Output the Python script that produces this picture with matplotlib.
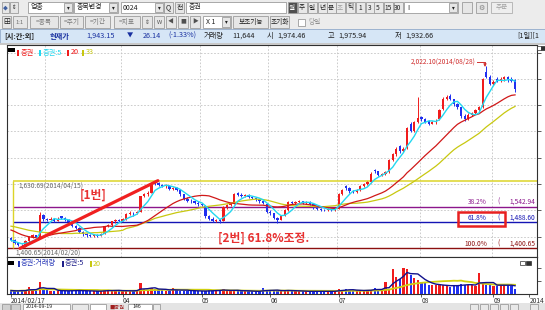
import matplotlib.pyplot as plt
import numpy as np
import pandas as pd
from matplotlib.patches import Rectangle

plt.rcParams['font.family'] = ['Noto Sans CJK KR', 'DejaVu Sans']

W, H = 545, 310

# 증권 업종 일봉 (2014/02/17 ~ 2014/09)
opens = [1435, 1428, 1420, 1410, 1406, 1425, 1440, 1445, 1438, 1515,
         1500, 1498, 1502, 1495, 1510, 1505, 1498, 1490, 1475, 1470,
         1455, 1448, 1445, 1442, 1447, 1444, 1450, 1475, 1480, 1492,
         1497, 1495, 1500, 1518, 1522, 1520, 1525, 1578, 1585, 1590,
         1628, 1622, 1616, 1612, 1614, 1604, 1606, 1598, 1584, 1570,
         1562, 1560, 1556, 1552, 1545, 1510, 1500, 1495, 1498, 1494,
         1540, 1548, 1552, 1588, 1583, 1578, 1582, 1575, 1572, 1568,
         1560, 1552, 1525, 1520, 1505, 1498, 1512, 1530, 1558, 1555,
         1558, 1560, 1556, 1558, 1552, 1540, 1535, 1532, 1530, 1534,
         1530, 1535, 1585, 1612, 1605, 1595, 1592, 1598, 1612, 1620,
         1625, 1668, 1662, 1650, 1652, 1660, 1700, 1720, 1748, 1730,
         1742, 1825, 1800, 1830, 1848, 1840, 1835, 1825, 1830, 1840,
         1875, 1910, 1920, 1908, 1890, 1880, 1852, 1840, 1855, 1860,
         1870, 1880, 2000, 1985, 1960, 1978, 1970, 1975, 1982, 1978,
         1974.46]
highs = [1438, 1432, 1423, 1415, 1428, 1442, 1450, 1447, 1525, 1518,
         1505, 1508, 1504, 1506, 1512, 1507, 1500, 1492, 1480, 1472,
         1458, 1452, 1448, 1450, 1449, 1452, 1478, 1483, 1495, 1500,
         1499, 1503, 1520, 1526, 1525, 1528, 1580, 1590, 1594, 1618,
         1630.69, 1626, 1620, 1618, 1616, 1610, 1608, 1600, 1586, 1574,
         1568, 1562, 1560, 1556, 1547, 1515, 1506, 1502, 1500, 1545,
         1552, 1556, 1590, 1592, 1588, 1585, 1584, 1578, 1575, 1570,
         1562, 1554, 1530, 1522, 1508, 1515, 1534, 1562, 1562, 1562,
         1565, 1562, 1562, 1560, 1554, 1544, 1538, 1535, 1537, 1536,
         1538, 1590, 1604, 1615, 1608, 1598, 1602, 1615, 1624, 1628,
         1660, 1672, 1665, 1656, 1664, 1704, 1725, 1745, 1752, 1745,
         1815, 1830, 1835, 1915, 1852, 1845, 1838, 1835, 1840, 1875,
         1915, 1922, 1924, 1910, 1894, 1882, 1858, 1860, 1866, 1875,
         1885, 1980, 2022.10, 1990, 1972, 1982, 1985, 1988, 1986, 1982,
         1975.94]
lows = [1424, 1415, 1408, 1400.65, 1404, 1423, 1436, 1433, 1436, 1495,
        1494, 1496, 1490, 1493, 1502, 1495, 1487, 1472, 1466, 1452,
        1444, 1440, 1438, 1440, 1440, 1442, 1448, 1472, 1478, 1488,
        1490, 1493, 1498, 1514, 1512, 1516, 1524, 1574, 1580, 1588,
        1615, 1612, 1608, 1606, 1600, 1598, 1594, 1580, 1565, 1558,
        1555, 1550, 1546, 1544, 1505, 1496, 1490, 1488.60, 1488, 1492,
        1536, 1544, 1550, 1578, 1574, 1575, 1572, 1568, 1562, 1556,
        1550, 1520, 1515, 1500, 1488, 1496, 1510, 1528, 1550, 1552,
        1554, 1552, 1553, 1548, 1536, 1530, 1528, 1526, 1528, 1527,
        1528, 1534, 1582, 1600, 1590, 1588, 1590, 1596, 1608, 1615,
        1622, 1658, 1645, 1646, 1650, 1658, 1698, 1716, 1726, 1728,
        1740, 1796, 1798, 1826, 1835, 1826, 1820, 1822, 1825, 1838,
        1872, 1905, 1904, 1886, 1876, 1845, 1835, 1838, 1850, 1856,
        1866, 1878, 1980, 1955, 1955, 1965, 1966, 1970, 1968, 1965,
        1932.66]
closes = [1428, 1420, 1412, 1405, 1425, 1440, 1445, 1438, 1515, 1500,
          1498, 1502, 1495, 1500, 1505, 1498, 1490, 1475, 1470, 1455,
          1448, 1445, 1442, 1447, 1444, 1450, 1475, 1480, 1492, 1497,
          1495, 1500, 1518, 1522, 1520, 1525, 1578, 1585, 1590, 1615,
          1620, 1616, 1612, 1614, 1604, 1606, 1598, 1584, 1570, 1562,
          1560, 1556, 1552, 1548, 1510, 1500, 1495, 1498, 1492, 1540,
          1548, 1550, 1585, 1583, 1578, 1582, 1575, 1572, 1568, 1560,
          1555, 1525, 1520, 1505, 1498, 1512, 1530, 1558, 1555, 1558,
          1560, 1556, 1558, 1552, 1540, 1535, 1532, 1530, 1534, 1530,
          1535, 1585, 1600, 1605, 1595, 1592, 1598, 1612, 1620, 1625,
          1655, 1662, 1650, 1652, 1660, 1700, 1720, 1740, 1730, 1740,
          1810, 1800, 1830, 1845, 1840, 1830, 1825, 1830, 1835, 1870,
          1910, 1915, 1908, 1890, 1880, 1850, 1840, 1855, 1860, 1870,
          1880, 1975, 1985, 1960, 1968, 1970, 1978, 1982, 1972, 1970,
          1943.15]
# 거래량 (천주)
volumes = [8, 7, 7, 9, 8, 17, 9, 8, 27, 12,
           9, 8, 8, 7, 7, 8, 7, 9, 8, 8,
           7, 7, 6, 7, 6, 7, 10, 9, 8, 8,
           7, 7, 8, 8, 7, 9, 25, 11, 10, 14,
           12, 11, 9, 8, 8, 13, 9, 8, 8, 7,
           8, 7, 7, 6, 6, 10, 9, 8, 8, 11,
           8, 7, 9, 8, 7, 7, 6, 6, 6, 6,
           13, 9, 8, 8, 7, 8, 8, 10, 7, 6,
           6, 6, 7, 6, 6, 6, 6, 6, 6, 6,
           7, 12, 10, 11, 9, 8, 7, 8, 9, 10,
           10, 14, 9, 10, 28, 12, 58, 40, 35, 60,
           57, 45, 38, 33, 28, 25, 22, 20, 20, 22,
           20, 18, 17, 20, 22, 24, 22, 20, 20, 18,
           48, 25, 22, 20, 18, 18, 24, 22, 20, 18,
           11.644]

# 이평선 앞부분
ma20_head = [1463, 1458, 1452, 1447, 1443, 1440, 1438, 1437, 1437, 1440,
             1443, 1446, 1449, 1451, 1453, 1455, 1457, 1459, 1461]
ma33_head = [1476, 1474, 1471, 1468, 1465, 1462, 1460, 1458, 1456, 1455,
             1454, 1453, 1452, 1452, 1451, 1451, 1451, 1451, 1452, 1452,
             1452, 1453, 1453, 1454, 1454, 1455, 1456, 1457, 1458, 1459,
             1460, 1462]

month_start = [10, 31, 53, 72, 91, 114, 134]
date_ticks = [0, 31, 53, 72, 91, 114, 134, 144]
date_labels = ['2014/02/17', '04', '05', '06', '07', '08', '09', '2014']

fib_prices = [1630.69, 1542.94, 1488.60, 1400.65]
fib_pcts = ['', '38.2%', '61.8%', '100.0%']
fib_colors = ['#dcd428', '#8c168c', '#1414b4', '#8c1010']
grid_prices = [2065, 1976, 1888, 1799, 1707, 1619, 1530, 1439]

RED = '#f01c1c'
BLUE = '#2030f0'
CYAN = '#22d8f0'
MA_RED = '#d01818'
YEL = '#c8c810'

fig = plt.figure(figsize=(W / 100, H / 100), dpi=100)


def rect(x0, y0, x1, y1):
    return [x0 / W, 1 - y1 / H, (x1 - x0) / W, (y1 - y0) / H]


o = np.array(opens, float)
h = np.array(highs, float)
l = np.array(lows, float)
c = np.array(closes, float)
v = np.array(volumes, float)
idx = np.arange(len(c))
col = np.where(c >= o, RED, BLUE)

s = pd.Series(c)
ma5 = s.rolling(5, min_periods=1).mean().values
ma20 = s.rolling(20).mean().values
ma20[:len(ma20_head)] = ma20_head
ma33 = s.rolling(33).mean().values
ma33[:len(ma33_head)] = ma33_head

XL = (-1.11, 146.1)

# price panel
ax = fig.add_axes(rect(7, 45, 537, 257))
ax.set_xlim(*XL)
ax.set_ylim(1371.2, 2092.2)
for gp in grid_prices:
    ax.axhline(gp, color='#c4c4c4', lw=0.6, dashes=(2, 2), zorder=0)
for m in month_start:
    ax.axvline(m - 0.5, color='#c4c4c4', lw=0.6, dashes=(2, 2), zorder=0)

ax.vlines(idx, l, h, colors=col, lw=0.7, zorder=3)
ax.bar(idx, np.maximum(np.abs(c - o), 1.8), bottom=np.minimum(o, c),
       width=0.62, color=col, lw=0, zorder=4)
ax.plot(idx, ma33, color=YEL, lw=0.9, zorder=5)
ax.plot(idx, ma20, color=MA_RED, lw=0.9, zorder=5)
ax.plot(idx, ma5, color=CYAN, lw=1.0, zorder=6)

# fibonacci
starts = [0.55, 0.55, 0.55, XL[0]]
for p, x0, fc in zip(fib_prices, starts, fib_colors):
    ax.hlines(p, x0, XL[1], color=fc, lw=1.1 if p == fib_prices[0] else 1.0, zorder=2)
ax.vlines(0.55, fib_prices[-1], fib_prices[0], color=fib_colors[0], lw=1.0, zorder=2)

# [1번] line from low to high
ax.plot([2.5, 40.8], [lows[3], highs[40]], color='#f02020', lw=2.3,
        solid_capstyle='round', zorder=8)

ax.yaxis.tick_right()
ax.set_yticks(grid_prices)
ax.set_yticklabels([])
ax.tick_params(axis='y', length=3, width=0.6, color='#404040')
ax.set_xticks([])
for sp in ax.spines.values():
    sp.set_color('#303030')
    sp.set_linewidth(0.8)

# volume panel
axv = fig.add_axes(rect(7, 257, 537, 294))
axv.set_xlim(*XL)
axv.set_ylim(0, 86)
axv.bar(idx, v, width=0.62, color=col, lw=0, zorder=3)
vs = pd.Series(v)
axv.plot(idx, vs.rolling(20, min_periods=1).mean(), color='#d0d010', lw=1.3, zorder=4)
axv.plot(idx, vs.rolling(5, min_periods=1).mean(), color='#12128c', lw=1.0, zorder=5)
axv.yaxis.tick_right()
axv.set_yticks([30, 60])
axv.set_yticklabels([])
axv.tick_params(axis='y', length=3, width=0.6, color='#404040')
axv.set_xticks(date_ticks)
axv.set_xticklabels(date_labels, ha='left', fontsize=4.8, color='#303030')
axv.tick_params(axis='x', length=2, width=0.6, pad=0.3, color='#404040')
for sp in axv.spines.values():
    sp.set_color('#303030')
    sp.set_linewidth(0.8)

# overlay in pixel units
ov = fig.add_axes([0, 0, 1, 1])
ov.set_xlim(0, W)
ov.set_ylim(H, 0)
ov.axis('off')


def box(x0, y0, x1, y1, fc='white', ec='#9c9c9c', lw=0.6, z=1):
    ov.add_patch(Rectangle((x0, y0), x1 - x0, y1 - y0, facecolor=fc,
                           edgecolor=ec, lw=lw, zorder=z))


def txt(x, y, t, size=5, color='#202020', ha='left', weight='normal', z=3):
    ov.text(x, y, t, fontsize=size, color=color, ha=ha, va='center',
            weight=weight, zorder=z)


# toolbar rows
box(0, 0, W, 29, fc='#ececec', ec='none', lw=0)
box(2, 2, 9, 13, fc='#e6e6e6')
txt(5.5, 7.5, '◆', size=3.5, color='#4060a0', ha='center')
box(10, 2, 18, 13, fc='#e6e6e6')
txt(14, 7.5, '⇕', size=4, ha='center')
for x0, x1, t, tw in [(28, 73, '업종', 31), (74, 118, '종목변경', 77), (121, 164, '0024', 123)]:
    box(x0, 2, x1, 13)
    txt(tw, 7.5, t, size=5)
    box(x1 - 9, 3, x1 - 1, 12, fc='#e6e6e6')
    txt(x1 - 5, 7.5, '▾', size=4, ha='center')
box(164, 2, 173, 13, fc='#e6e6e6')
txt(168.5, 7.5, 'Q', size=5, ha='center')
box(175, 2, 184, 13, fc='#e6e6e6')
txt(179.5, 7.5, '전', size=5, ha='center')
box(186, 2, 286, 13)
txt(189, 7.5, '증권', size=5)
periods = ['월', '주', '일', '년', '분', '초', '틱', '1', '3', '5', '15', '30']
pos = [292, 302, 312, 322, 331, 340, 350, 360, 370, 378, 388, 398]
for t, px in zip(periods, pos):
    dark = t == '월'
    box(px - 4.5, 2, px + 4.5, 13, fc='#505050' if dark else '#e8e8e8')
    txt(px, 7.5, t, size=4.8, ha='center',
        color='white' if dark else ('#a0a0a0' if t == '초' else '#202020'))
box(404, 2, 458, 13)
txt(407, 7.5, 'I', size=5)
box(449, 3, 457, 12, fc='#e6e6e6')
txt(453, 7.5, '▾', size=4, ha='center')
box(462, 2, 472, 13, fc='#e6e6e6')
box(476, 2, 487, 13, fc='#e6e6e6')
txt(481.5, 7.5, '⚙', size=5, color='#808080', ha='center')
box(491, 2, 512, 13, fc='#eeeeee', ec='#b0b0b0')
txt(501.5, 7.5, '주문', size=4.8, color='#a0a0a0', ha='center')

y2 = 22
box(2, 16, 11, 28, fc='#e6e6e6')
txt(6.5, y2, '田', size=5, ha='center')
box(13, 16, 27, 28, fc='#e6e6e6')
txt(20, y2, '1:1', size=4.2, color='#707070', ha='center')
for x0, x1, t in [(30, 58, '=종목'), (60, 83, '=주기'), (85, 110, '=기간'), (114, 140, '=지표')]:
    box(x0, 16, x1, 28, fc='#e6e6e6')
    txt((x0 + x1) / 2, y2, t, size=4.8, color='#7a7a7a', ha='center')
for x0, t in [(142, '⇕'), (154, 'W'), (166, '◀'), (178, '■'), (190, '▶')]:
    box(x0, 16, x0 + 10, 28, fc='#e6e6e6')
    txt(x0 + 5, y2, t, size=4.2, color='#505050', ha='center')
box(203, 16, 231, 28)
txt(206, y2, 'X 1', size=5)
box(222, 17, 230, 27, fc='#e6e6e6')
txt(226, y2, '▾', size=4, ha='center')
box(233, 16, 268, 28, fc='#e6e6e6')
txt(250.5, y2, '보조기능', size=4.8, ha='center')
box(270, 16, 289, 28, fc='#e6e6e6')
txt(279.5, y2, '초기화', size=4.8, ha='center')
box(298, 19, 305, 26)
txt(308, y2, '당일', size=4.8, color='#909090')

# info bar
box(0, 29, W, 43, fc='#d6e6f6', ec='#90a8c8')
yi = 36
txt(4, yi, '[시:간:외]', size=5.2, weight='bold')
txt(50, yi, '현재가', size=5.2, color='#1830a0', weight='bold')
txt(86, yi, '1,943.15', size=5.2, color='#1830a0')
txt(127, yi, '▼', size=4.5, color='#1830a0')
txt(143, yi, '26.14', size=5.2, color='#1830a0')
txt(168, yi, '(-1.33%)', size=5.2, color='#1830a0')
txt(204, yi, '거래량', size=5.2)
txt(232, yi, '11,644', size=5.2)
txt(267, yi, '시', size=5.2)
txt(277, yi, '1,974.46', size=5.2)
txt(328, yi, '고', size=5.2)
txt(338, yi, '1,975.94', size=5.2)
txt(395, yi, '저', size=5.2)
txt(405, yi, '1,932.66', size=5.2)
txt(517, yi, '[1일][1', size=5.2)
box(0, 43, W, 45, fc='#c8c8c8', ec='none', lw=0)

# price legend
box(8, 48, 15, 52, fc='black', ec='none')
for bx, t, cl in [(17, '증권', RED), (39, '증권:5', CYAN), (67, '20', RED), (82, '33', YEL)]:
    box(bx, 49.5, bx + 1.6, 55.5, fc=cl, ec='none')
    txt(bx + 3.5, 52.5, t, size=5.2, color=cl)
box(537, 46, 541, 50, fc='white', ec='#303030', lw=0.5)
box(541, 46, 545, 50, fc='#303030', ec='#303030', lw=0.5)

# volume legend
box(8, 261, 14, 265, fc='black', ec='none')
for bx, t, cl in [(18, '증권:거래량', '#2838b8'), (62, '증권:5', '#20208a'), (90, '20', '#c8c810')]:
    box(bx, 260.5, bx + 1.6, 266.5, fc=cl, ec='none')
    txt(bx + 3, 263.5, t, size=5.2, color=cl)
box(520, 261, 525, 265, fc='white', ec='#303030', lw=0.5)
box(526, 261, 531, 265, fc='#303030', ec='#303030', lw=0.5)

# annotations
txt(18, 185.5, '1,630.69(2014/04/15)', size=4.8, color='#686868')
txt(15, 253, '1,400.65(2014/02/20)', size=4.8, color='#686868')
txt(80, 195, '[1번]', size=8.5, color='#e83030', weight='bold')
txt(218, 238, '[2번] 61.8%조정.', size=8.5, color='#e83030', weight='bold')
txt(476, 62, '2,022.10(2014/08/28)', size=4.8, color='#d03030', ha='right')
ov.plot([477, 485, 485], [62, 62, 64], color='#d03030', lw=0.7, zorder=3)
ov.annotate('', xy=(485, 67), xytext=(485, 62),
            arrowprops=dict(arrowstyle='-|>', color='#d03030', lw=0.7,
                            mutation_scale=4), zorder=3)
fib_y = [None, 202, 218, 244]
for pct, fy, fc in zip(fib_pcts[1:], fib_y[1:], fib_colors[1:]):
    txt(487, fy, pct, size=4.8, color=fc, ha='right')
    txt(497, fy, '(', size=4.8, color=fc)
    txt(535, fy, fib_prices[fib_pcts.index(pct)].__format__(',.2f'), size=4.8,
        color=fc, ha='right')
box(458, 212, 505, 226, fc='none', ec='#e82020', lw=1.8, z=4)

# bottom toolbar
box(0, 303, W, H, fc='#e4e4e4', ec='none', lw=0)
box(2, 304, 10, 310, fc='#d0d0d0')
box(11, 304, 20, 310, fc='#d0d0d0')
box(23, 304, 70, 310)
txt(26, 307, '2014-09-19', size=3.8)
box(72, 304, 88, 310, fc='#e8e8e8')
box(90, 304, 106, 310)
txt(109, 307, '■증권', size=3.8, color='#a02020')
box(128, 304, 152, 310)
txt(132, 307, '146', size=3.8)
box(153, 304, 160, 310, fc='#e8e8e8')
for bx in [470, 480, 490, 500, 510, 530]:
    box(bx, 304, bx + 8, 310, fc='#e8e8e8')

fig.savefig('out.png', dpi=100)
